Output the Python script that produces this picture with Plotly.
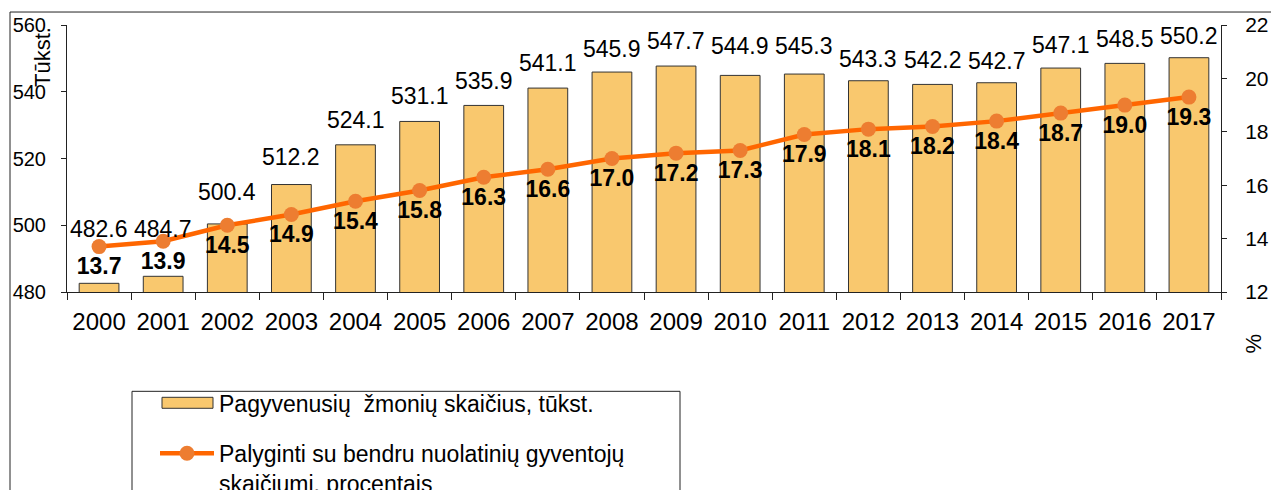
import plotly.graph_objects as go

years = [str(y) for y in range(2000, 2018)]
elderly = [482.6, 484.7, 500.4, 512.2, 524.1, 531.1, 535.9, 541.1, 545.9, 547.7,
           544.9, 545.3, 543.3, 542.2, 542.7, 547.1, 548.5, 550.2]
share = [13.7, 13.9, 14.5, 14.9, 15.4, 15.8, 16.3, 16.6, 17.0, 17.2,
         17.3, 17.9, 18.1, 18.2, 18.4, 18.7, 19.0, 19.3]
# vertical offset (px) of each bar value label above its bar top
label_shift = [54, 47, 32, 28, 25, 25, 24, 25, 23, 25, 29, 28, 22, 24, 22, 23, 24, 22]

bar_name = "Pagyvenusių  žmonių skaičius, tūkst."
line_name_1 = "Palyginti su bendru nuolatinių gyventojų"
line_name_2 = "skaičiumi, procentais"

FONT = "Arial, Liberation Sans, sans-serif"
BAR_COLOR = "#F9C86E"
LINE_COLOR = "#FF6600"
MARK_COLOR = "#ED7D31"

fig = go.Figure()
fig.add_trace(go.Bar(
    x=years, y=elderly, name=bar_name, width=0.62,
    marker=dict(color=BAR_COLOR, line=dict(color="#333333", width=1)),
    showlegend=False, yaxis="y",
))
fig.add_trace(go.Scatter(
    x=years, y=share, name=line_name_1 + " " + line_name_2, yaxis="y2",
    mode="lines+markers+text",
    line=dict(color=LINE_COLOR, width=4.5),
    marker=dict(color=MARK_COLOR, size=15),
    text=[f"{v:.1f}" for v in share], textposition="bottom center",
    textfont=dict(family=FONT, size=23, color="black", weight="bold"),
    showlegend=False, cliponaxis=False,
))

annotations = []
for i, (v, s) in enumerate(zip(elderly, label_shift)):
    annotations.append(dict(
        x=i, y=v, xref="x", yref="y", text=f"{v:.1f}", showarrow=False,
        xanchor="center", yanchor="middle", yshift=s,
        font=dict(family=FONT, size=23, color="black"),
    ))

L, T = 67.0, 292.5
W, H = 1154.0, 267.5


def px(xp):
    return (xp - L) / W


def py(yp):
    return (T - yp) / H


# axis titles
annotations.append(dict(
    x=px(43), y=py(57), xref="paper", yref="paper", text="Tūkst.", textangle=-90,
    xanchor="center", yanchor="middle", showarrow=False,
    font=dict(family=FONT, size=22, color="black"),
))
annotations.append(dict(
    x=px(1253), y=py(344), xref="paper", yref="paper", text="%", textangle=-90,
    xanchor="center", yanchor="middle", showarrow=False,
    font=dict(family=FONT, size=22, color="black"),
))

# custom legend texts
LEG_FONT = dict(family=FONT, size=23, color="black")
annotations.append(dict(
    x=px(217), y=py(405), xref="paper", yref="paper", text=bar_name.replace("  ", "&nbsp; "),
    xanchor="left", yanchor="middle", showarrow=False, font=LEG_FONT,
))
annotations.append(dict(
    x=px(217), y=py(455), xref="paper", yref="paper", text=line_name_1,
    xanchor="left", yanchor="middle", showarrow=False, font=LEG_FONT,
))
annotations.append(dict(
    x=px(217), y=py(485), xref="paper", yref="paper", text=line_name_2,
    xanchor="left", yanchor="middle", showarrow=False, font=LEG_FONT,
))

shapes = [
    # outer chart border
    dict(type="rect", xref="paper", yref="paper", x0=px(10), x1=px(1300), y0=py(600), y1=py(12),
         line=dict(color="#222222", width=1), fillcolor="rgba(0,0,0,0)", layer="below"),
    # legend box
    dict(type="rect", xref="paper", yref="paper", x0=px(132), x1=px(680), y0=py(600), y1=py(392),
         line=dict(color="#222222", width=1), fillcolor="white"),
    # legend bar symbol
    dict(type="rect", xref="paper", yref="paper", x0=px(162), x1=px(213), y0=py(409), y1=py(398),
         line=dict(color="#333333", width=1), fillcolor=BAR_COLOR),
    # legend line symbol
    dict(type="line", xref="paper", yref="paper", x0=px(160), x1=px(214), y0=py(454), y1=py(454),
         line=dict(color=LINE_COLOR, width=4.5)),
    dict(type="circle", xref="paper", yref="paper", x0=px(179.5), x1=px(194.5), y0=py(461.5), y1=py(446.5),
         line=dict(color=MARK_COLOR, width=0), fillcolor=MARK_COLOR),
]

fig.update_layout(
    width=1271, height=490,
    margin=dict(l=67, r=50, t=25, b=198, pad=0, autoexpand=False),
    paper_bgcolor="white", plot_bgcolor="white",
    font=dict(family=FONT, size=20, color="black"),
    xaxis=dict(
        type="category", showline=True, linecolor="#222222", linewidth=1,
        ticks="outside", ticklen=7, tickcolor="#222222", tickson="boundaries",
        tickfont=dict(family=FONT, size=24, color="black"), showgrid=False,
        range=[-0.5, 17.5], ticklabelstandoff=8, automargin=False,
    ),
    yaxis=dict(
        range=[480, 560], dtick=20, showline=True, linecolor="#222222", linewidth=1,
        ticks="outside", ticklen=5, tickcolor="#222222", showgrid=False, zeroline=False,
        tickfont=dict(family=FONT, size=20, color="black"), ticklabelstandoff=11,
        automargin=False,
    ),
    yaxis2=dict(
        range=[12, 22], dtick=2, overlaying="y", side="right", showline=True,
        linecolor="#222222", linewidth=1, ticks="outside", ticklen=5, tickcolor="#222222",
        showgrid=False, zeroline=False, tickfont=dict(family=FONT, size=21, color="black"),
        ticklabelstandoff=14, automargin=False,
    ),
    annotations=annotations,
    shapes=shapes,
    showlegend=False,
)

fig.write_html(
    "out.html",
    config={"displayModeBar": False},
    post_script="document.body.style.margin='0';document.body.style.overflow='hidden';",
)
